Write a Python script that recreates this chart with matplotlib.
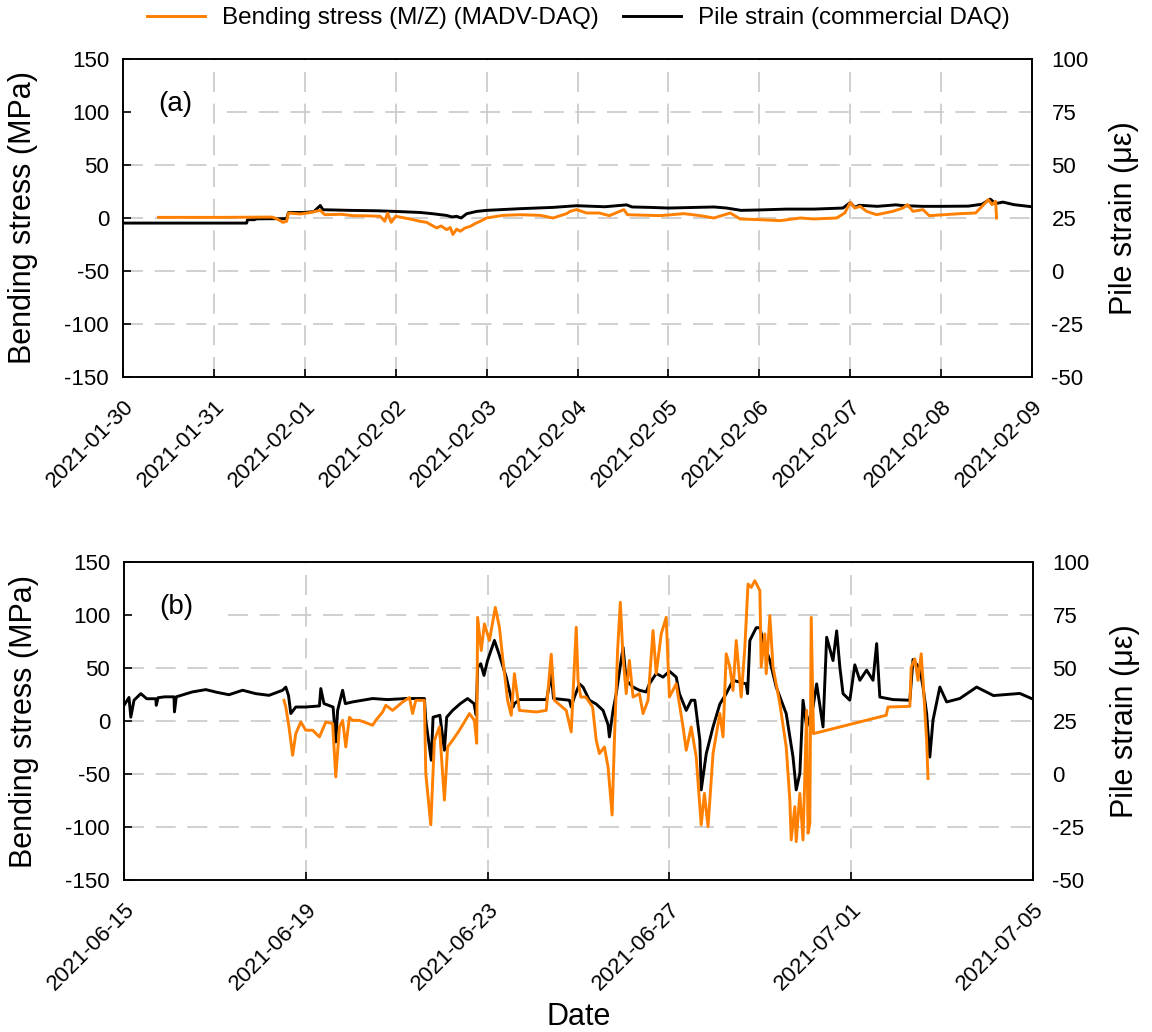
import matplotlib
matplotlib.use("Agg")
import matplotlib.pyplot as plt
import pandas as pd

plt.rcParams['font.family'] = ['Liberation Sans', 'DejaVu Sans']
plt.rcParams['axes.unicode_minus'] = False

# ---------------- data ----------------
# Panel (a): days since 2021-01-30
a_start = '2021-01-30'
a_end = '2021-02-09'
a_tick_labels = ['2021-01-30', '2021-01-31', '2021-02-01', '2021-02-02', '2021-02-03',
                 '2021-02-04', '2021-02-05', '2021-02-06', '2021-02-07', '2021-02-08',
                 '2021-02-09']

a_orange_day = [0.39, 1.07, 1.64, 1.69, 1.76, 1.80, 1.82, 1.95, 2.05, 2.17, 2.22, 2.40, 2.53,
                2.70, 2.83, 2.88, 2.91, 2.95, 3.00, 3.10, 3.19, 3.26, 3.34, 3.40, 3.45, 3.50,
                3.56, 3.60, 3.63, 3.67, 3.71, 3.76, 3.82, 3.88, 3.93, 4.00, 4.18, 4.37, 4.59,
                4.73, 4.88, 4.92, 4.99, 5.10, 5.24, 5.35, 5.51, 5.55, 5.91, 6.17, 6.35, 6.50,
                6.68, 6.79, 7.01, 7.23, 7.45, 7.60, 7.85, 7.94, 8.00, 8.05, 8.11, 8.18, 8.29,
                8.47, 8.58, 8.63, 8.69, 8.80, 8.87, 9.21, 9.38, 9.45, 9.52, 9.56, 9.60, 9.61]
a_orange_stress = [0.6, 0.6, 0.9, -0.7, -4.1, -3.1, 4.7, 3.8, 5.0, 7.2, 3.1, 3.5, 2.2,
                   2.0, 1.6, -3.1, 4.7, -4.1, 1.6, 0.0, -1.6, -3.0, -4.1, -7.0, -9.4, -7.5,
                   -11.0, -9.0, -15.6, -10.5, -12.5, -9.5, -7.9, -5.0, -3.1, 0.0, 2.5, 3.1, 2.5,
                   0.0, 4.1, 6.3, 7.9, 4.7, 4.7, 2.2, 7.9, 3.1, 2.2, 4.1, 2.2, 0.0,
                   4.7, -0.9, -1.6, -2.5, 0.0, -0.9, 0.0, 4.7, 14.7, 9.4, 11.0, 6.3, 3.1,
                   6.3, 9.4, 12.6, 6.3, 7.9, 2.2, 4.1, 4.7, 11.0, 17.3, 12.6, 15.7, 0.0]

a_black_day = [0.00, 1.36, 1.37, 1.45, 1.46, 1.80, 1.82, 1.995, 2.10, 2.17, 2.20, 2.50, 2.80,
               3.00, 3.27, 3.41, 3.56, 3.62, 3.67, 3.72, 3.78, 3.89, 4.00, 4.37, 4.73, 4.99,
               5.30, 5.54, 5.60, 5.80, 6.00, 6.30, 6.50, 6.64, 6.80, 7.00, 7.30, 7.60, 7.92,
               8.00, 8.05, 8.10, 8.30, 8.50, 8.60, 8.80, 9.00, 9.30, 9.45, 9.54, 9.60, 9.68,
               9.80, 10.00]
a_black_strain = [22.6, 22.6, 24.2, 24.2, 24.6, 24.7, 27.6, 27.6, 28.0, 30.9, 28.9, 28.6, 28.4,
                  28.1, 27.6, 27.0, 26.2, 25.5, 25.8, 25.0, 27.0, 28.1, 28.6, 29.4, 30.0, 30.8,
                  30.3, 31.2, 30.2, 30.0, 29.7, 30.0, 30.2, 29.7, 28.6, 28.8, 29.2, 29.2, 29.7,
                  32.3, 30.0, 31.0, 30.5, 31.2, 30.8, 30.5, 30.5, 30.6, 31.5, 33.9, 31.8, 32.5,
                  31.3, 30.3]

# Panel (b): days since 2021-06-15
b_start = '2021-06-15'
b_end = '2021-07-05'
b_tick_labels = ['2021-06-15', '2021-06-19', '2021-06-23', '2021-06-27', '2021-07-01',
                 '2021-07-05']

b_orange_day = [3.52, 3.56, 3.63, 3.71, 3.78, 3.89, 4.00, 4.15, 4.30, 4.44, 4.59, 4.66, 4.74,
                4.81, 4.88, 4.96, 5.03, 5.18, 5.47, 5.54, 5.69, 5.76, 5.91, 6.13, 6.28, 6.35,
                6.42, 6.61, 6.64, 6.75, 6.83, 6.94, 7.05, 7.12, 7.23, 7.38, 7.60, 7.71, 7.76,
                7.78, 7.86, 7.93, 8.04, 8.17, 8.26, 8.33, 8.44, 8.52, 8.59, 8.70, 9.07, 9.29,
                9.40, 9.47, 9.73, 9.84, 9.95, 9.99, 10.05, 10.16, 10.31, 10.39, 10.46, 10.57,
                10.65, 10.74, 10.79, 10.86, 10.92, 10.98, 11.05, 11.12, 11.20, 11.34, 11.42,
                11.53, 11.64, 11.71, 11.82, 11.93, 12.00, 12.15, 12.30, 12.37, 12.48, 12.59,
                12.70, 12.77, 12.85, 12.96, 13.11, 13.18, 13.25, 13.33, 13.40, 13.47, 13.58,
                13.66, 13.73, 13.80, 13.88, 13.99, 14.02, 14.10, 14.13, 14.21, 14.28, 14.43,
                14.57, 14.65, 14.68, 14.76, 14.79, 14.87, 14.94, 15.02, 15.05, 15.09, 15.12,
                15.17, 16.77, 16.81, 17.29, 17.32, 17.40, 17.47, 17.54, 17.58, 17.66, 17.69]
b_orange_stress = [19.5, 13.2, -5.6, -32.3, -11.9, -0.9, -8.7, -8.7, -15.0, -0.9, -2.4, -52.7, -5.6,
                   0.6, -24.5, 3.5, 0.6, 0.6, -4.0, 0.6, 8.5, 14.8, 10.0, 17.9, 22.1, 7.0,
                   19.5, 19.5, -49.5, -98.0, -18.2, -5.6, -74.6, -24.5, -18.2, -8.7, 7.0, 0.6, -21.0,
                   97.8, 66.5, 91.6, 75.9, 107.2, 88.4, 60.2, 19.5, 5.4, 44.6, 10.0, 8.5, 10.0,
                   63.0, 19.5, 10.0, -10.3, 88.4, 38.3, 22.6, 22.6, 13.2, -18.2, -30.7, -24.5,
                   -43.3, -88.7, -18.2, 66.5, 112.0, 60.2, 25.8, 57.1, 22.6, 25.8, 7.0,
                   19.5, 85.3, 44.6, 82.2, 97.8, 22.6, 35.1, -5.6, -27.6, -5.6, -33.9,
                   -98.0, -68.3, -99.7, -30.7, 7.0, -15.0, 63.4, 50.8, 28.9, 75.9, 22.6,
                   69.6, 129.2, 126.0, 132.4, 123.0, 50.8, 82.2, 44.6, 99.4, 50.8, 16.4,
                   -24.5, -74.6, -112.2, -80.8, -113.8, -68.3, -112.2, 10.0, -105.9, -96.5, 97.8,
                   -11.9, 5.4, 13.2, 13.8, 50.8, 58.6, 38.3, 63.4, 38.3, -18.2, -54.2]

b_black_day = [0.00, 0.11, 0.15, 0.22, 0.37, 0.50, 0.70, 0.71, 0.75, 0.90, 1.10, 1.11, 1.15,
               1.50, 1.80, 2.05, 2.31, 2.61, 2.90, 3.19, 3.49, 3.56, 3.62, 3.67, 3.78, 4.00,
               4.30, 4.33, 4.40, 4.60, 4.66, 4.70, 4.81, 4.87, 5.03, 5.47, 5.80, 6.20, 6.61,
               6.64, 6.76, 6.80, 6.95, 7.05, 7.10, 7.23, 7.40, 7.56, 7.70, 7.75, 7.78, 7.85,
               7.92, 8.00, 8.15, 8.25, 8.41, 8.52, 8.56, 8.59, 8.70, 9.30, 9.40, 9.45, 9.80,
               9.84, 9.91, 10.02, 10.10, 10.24, 10.39, 10.54, 10.65, 10.68, 10.76, 10.83,
               10.98, 11.05, 11.20, 11.34, 11.49, 11.56, 11.71, 11.86, 12.00, 12.15, 12.22,
               12.37, 12.48, 12.56, 12.67, 12.70, 12.81, 12.96, 13.11, 13.25, 13.40, 13.69,
               13.72, 13.77, 13.91, 13.99, 14.06, 14.21, 14.35, 14.57, 14.72, 14.79, 14.87,
               14.94, 15.02, 15.16, 15.24, 15.38, 15.46, 15.60, 15.68, 15.75, 15.82, 15.97,
               16.08, 16.19, 16.34, 16.48, 16.56, 16.63, 16.92, 17.29, 17.36, 17.51, 17.58,
               17.66, 17.73, 17.80, 17.95, 18.10, 18.39, 18.76, 19.13, 19.71, 20.00]
b_black_strain = [32.4, 36.1, 26.8, 34.8, 37.9, 35.5, 35.5, 32.4, 36.0, 36.4, 36.4, 29.3, 36.4,
                  38.7, 39.8, 38.5, 37.4, 39.5, 37.9, 37.1, 39.5, 41.0, 37.0, 28.5, 31.6, 31.6,
                  32.1, 40.3, 33.2, 31.6, 15.1, 30.0, 39.5, 33.2, 34.0, 35.6, 35.1, 35.6, 35.6,
                  25.3, 6.5, 26.8, 27.7, 11.2, 26.8, 30.0, 33.2, 35.6, 33.2, 27.7, 50.4, 52.0,
                  46.5, 53.6, 63.0, 56.7, 45.7, 35.6, 31.6, 33.2, 35.1, 35.1, 47.3, 35.6, 34.8,
                  31.6, 36.3, 42.5, 41.0, 34.8, 33.0, 30.0, 23.3, 17.5, 30.0, 37.9,
                  59.8, 44.2, 41.0, 39.5, 38.7, 42.5, 47.4, 45.7, 48.5, 45.7, 37.9,
                  30.0, 34.8, 34.8, 15.9, -7.5, 9.5, 22.2, 33.0, 37.9, 44.2, 42.5,
                  37.9, 63.0, 69.0, 69.0, 63.0, 53.5, 41.0, 28.5, 8.0, -7.5, 0.3,
                  34.8, 22.2, 31.6, 42.5, 22.2, 64.5, 53.5, 67.5, 50.5, 37.9, 34.8,
                  51.5, 44.2, 49.0, 44.2, 61.5, 36.3, 35.1, 34.8, 54.0, 49.7, 41.0,
                  28.5, 8.0, 25.4, 41.0, 34.0, 35.6, 41.0, 37.0, 38.0, 35.3]

stress_ticks = [-150, -100, -50, 0, 50, 100, 150]
strain_ticks = [-50, -25, 0, 25, 50, 75, 100]
strain_grid = [-25, 0, 25, 50, 75]

label_stress = 'Bending stress (MPa)'
label_strain = 'Pile strain (\u03bc\u03b5)'
legend_orange = 'Bending stress (M/Z) (MADV-DAQ)'
legend_black = 'Pile strain (commercial DAQ)'

ORANGE = '#FF8000'
GRID = '#c8c8c8'

fig = plt.figure(figsize=(11.52, 10.32), dpi=100)


def to_time(start, days):
    return pd.Timestamp(start) + pd.to_timedelta(days, unit='D')


def panel(rect, start, end, tick_labels, o_day, o_val, k_day, k_val, tag):
    ax = fig.add_axes(rect)
    ax2 = ax.twinx()
    # ax2 (black line, grid) drawn below ax (orange line)
    ax2.set_zorder(1)
    ax.set_zorder(2)
    ax.patch.set_visible(False)
    ax2.patch.set_visible(True)
    ax2.patch.set_facecolor('white')

    t0, t1 = pd.Timestamp(start), pd.Timestamp(end)
    ticks = pd.to_datetime(tick_labels)
    ax.set_xlim(t0, t1)
    ax2.set_xlim(t0, t1)

    for lev in strain_grid:
        xmin = 0.114 if lev == 75 else 0.0
        ax2.axhline(lev, xmin=xmin, color=GRID, lw=1.2, ls=(0, (12, 7)), zorder=0.5)
    for t in ticks[1:-1]:
        ax2.axvline(t, color=GRID, lw=1.2, ls=(0, (12, 7)), zorder=0.5)

    ax2.plot(to_time(start, k_day), k_val, color='black', lw=2.1, zorder=2,
             label=legend_black)
    ax.plot(to_time(start, o_day), o_val, color=ORANGE, lw=2.1, zorder=2,
            label=legend_orange)

    ax.set_ylim(-150, 150)
    ax.set_yticks(stress_ticks)
    ax2.set_ylim(-50, 100)
    ax2.set_yticks(strain_ticks)

    ax.set_xticks(ticks)
    ax.set_xticklabels(tick_labels, rotation=45, ha='right', rotation_mode='anchor')
    ax.tick_params(axis='x', direction='in', length=6, width=1.2, labelsize=16, pad=14)
    ax.tick_params(axis='y', direction='in', length=6, width=1.2, labelsize=16, pad=10)
    ax2.tick_params(axis='y', direction='in', length=0, labelsize=16, pad=14)

    for a in (ax, ax2):
        for s in a.spines.values():
            s.set_linewidth(1.2)

    ax.set_ylabel(label_stress, fontsize=22)
    ax.yaxis.set_label_coords(-0.093, 0.5)
    ax2.set_ylabel(label_strain, fontsize=22)
    ax2.yaxis.set_label_coords(1.085, 0.5)

    ax.text(0.057, 0.86, tag, transform=ax.transAxes, fontsize=20,
            ha='center', va='center', zorder=5)
    return ax, ax2


W = 909 / 1152
H = 318 / 1032
ax_a, ax_a2 = panel([123 / 1152, 1 - 377 / 1032, W, H], a_start, a_end, a_tick_labels,
                    a_orange_day, a_orange_stress, a_black_day, a_black_strain, '(a)')
ax_b, ax_b2 = panel([124 / 1152, 1 - 880 / 1032, W, H], b_start, b_end, b_tick_labels,
                    b_orange_day, b_orange_stress, b_black_day, b_black_strain, '(b)')

ax_b.set_xlabel('Date', fontsize=22)
ax_b.xaxis.set_label_coords(0.5, -0.385)

h1, l1 = ax_a.get_legend_handles_labels()
h2, l2 = ax_a2.get_legend_handles_labels()
fig.legend(h1 + h2, l1 + l2, loc='center', bbox_to_anchor=(0.502, 1 - 18 / 1032), ncol=2,
           frameon=False, fontsize=17.5, handlelength=2.4, columnspacing=1.0,
           handletextpad=0.7)

fig.savefig('out.png', dpi=100)
